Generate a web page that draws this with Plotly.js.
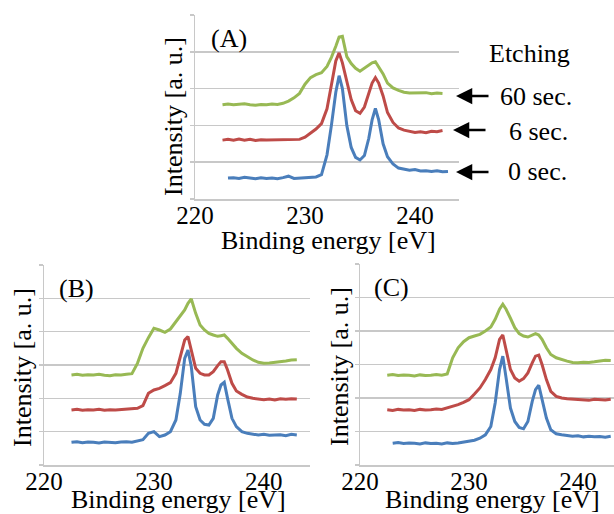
<!DOCTYPE html>
<html>
<head>
<meta charset="utf-8">
<script src="https://cdn.plot.ly/plotly-3.0.1.min.js"></script>
<style>html,body{margin:0;padding:0;background:#fff;}#chart{width:614px;height:514px;}</style>
</head>
<body>
<div id="chart"></div>
<script>
// Binding energy grid (eV)
const energy = [222.5,223,223.5,224,224.5,225,225.5,226,226.5,227,227.5,228,228.5,229,229.5,230,230.5,231,231.5,
  232,232.4,232.8,233.1,233.4,233.8,234.2,234.6,235,235.4,235.8,236.1,236.4,236.7,237.1,237.5,238,
  238.5,239,239.5,240,240.5,241,241.5,242,242.5,243];

// Panel (A)
const a0  = [null,0.57,0.58,0.56,0.59,0.57,0.55,0.58,0.56,0.57,0.55,0.58,0.62,0.56,0.57,0.56,0.58,0.6,0.66,
  1.2,2.0,2.9,3.35,3.0,2.0,1.4,1.13,1.06,1.18,1.65,2.15,2.46,2.15,1.5,1.15,0.95,
  0.84,0.8,0.78,0.8,0.76,0.77,0.75,0.77,0.74,0.75];
const a6  = [1.6,1.62,1.6,1.63,1.6,1.62,1.59,1.61,1.6,1.6,1.62,1.61,1.6,1.61,1.62,1.68,1.78,1.9,2.05,
  2.45,3.1,3.75,3.97,3.7,3.2,2.7,2.4,2.33,2.5,2.85,3.15,3.3,3.15,2.8,2.35,2.08,
  1.93,1.87,1.83,1.81,1.83,1.8,1.84,1.83,1.86,null];
const a60 = [2.56,2.58,2.56,2.57,2.59,2.56,2.55,2.57,2.56,2.58,2.57,2.6,2.66,2.75,2.87,3.12,3.3,3.38,3.43,
  3.6,3.85,4.15,4.4,4.42,3.87,3.68,3.55,3.47,3.55,3.65,3.7,3.73,3.6,3.4,3.15,3.02,
  2.95,2.9,2.88,2.88,2.87,2.89,2.86,2.88,2.87,null];

// Panel (B)
const b0  = [0.68,0.7,0.67,0.69,0.68,0.66,0.69,0.68,0.67,0.69,0.7,0.68,0.71,0.76,0.95,1.0,0.85,0.9,1.0,
  1.35,2.15,3.2,3.45,2.95,1.75,1.35,1.22,1.2,1.4,2.1,2.4,2.48,2.0,1.4,1.15,1.0,
  0.95,0.92,0.9,0.92,0.89,0.9,0.91,0.88,0.92,0.9];
const b6  = [1.65,1.67,1.64,1.66,1.65,1.67,1.64,1.66,1.65,1.66,1.68,1.67,1.7,1.78,2.15,2.25,2.3,2.38,2.47,
  2.75,3.25,3.75,3.85,3.4,2.9,2.75,2.7,2.7,2.8,2.98,3.1,3.1,2.85,2.45,2.22,2.12,
  2.04,2.0,1.98,1.96,1.98,1.95,1.99,1.97,1.99,1.98];
const b60 = [2.7,2.72,2.69,2.71,2.7,2.72,2.69,2.68,2.71,2.7,2.72,2.74,3.05,3.5,3.82,4.1,4.05,3.98,4.08,
  4.3,4.45,4.65,4.85,4.98,4.55,4.2,4.05,3.95,3.9,3.86,3.88,3.9,3.8,3.65,3.5,3.35,
  3.25,3.15,3.08,3.05,3.06,3.08,3.08,3.12,3.15,3.16];

// Panel (C)
const c0  = [null,0.65,0.67,0.64,0.66,0.65,0.63,0.66,0.64,0.65,0.63,0.66,0.64,0.66,0.68,0.7,0.74,0.8,0.9,
  1.15,1.85,2.85,3.25,2.6,1.7,1.3,1.12,1.08,1.3,1.9,2.25,2.38,1.95,1.4,1.05,0.93,
  0.9,0.88,0.86,0.87,0.84,0.86,0.84,0.85,0.83,0.86];
const c6  = [1.65,1.63,1.66,1.64,1.65,1.63,1.66,1.64,1.65,1.67,1.66,1.7,1.75,1.8,1.87,1.95,2.12,2.3,2.55,
  2.85,3.2,3.75,3.88,3.45,2.85,2.6,2.5,2.58,2.75,3.05,3.25,3.28,3.0,2.55,2.2,2.05,
  2.0,1.98,1.97,1.95,1.96,1.93,1.96,1.95,1.94,1.96];
const c60 = [2.68,2.7,2.67,2.69,2.68,2.66,2.69,2.67,2.68,2.7,2.68,2.72,3.2,3.5,3.68,3.8,3.85,3.9,4.0,
  4.12,4.35,4.65,4.8,4.65,4.38,4.1,3.92,3.85,3.82,3.88,3.92,3.88,3.75,3.5,3.3,3.2,
  3.14,3.1,3.06,3.05,3.07,3.06,3.08,3.1,3.13,3.12];

const xTicks = [220, 230, 240];
const seriesNames = ['0 sec.', '6 sec.', '60 sec.'];
const colors = ['#4a7ebb', '#be4b48', '#98b954'];
const xTitle = 'Binding energy [eV]';
const yTitle = 'Intensity [a. u.]';

const W = 614, H = 514;
const FONT = 'Liberation Serif, Times New Roman, serif';

function mk(y, i, xa, ya) {
  return {x: energy, y: y, type: 'scatter', mode: 'lines', name: seriesNames[i],
    xaxis: xa, yaxis: ya, line: {color: colors[i], width: 3}, showlegend: false,
    connectgaps: false};
}
const traces = [
  mk(a0,0,'x','y'), mk(a6,1,'x','y'), mk(a60,2,'x','y'),
  mk(b0,0,'x2','y2'), mk(b6,1,'x2','y2'), mk(b60,2,'x2','y2'),
  mk(c0,0,'x3','y3'), mk(c6,1,'x3','y3'), mk(c60,2,'x3','y3')
];

const gridC = '#c8c8c8';
function xax(l, r, range, anchor) {
  return {domain: [l / W, r / W], range: range, anchor: anchor,
    tickvals: xTicks, ticks: '', showgrid: false, zeroline: false,
    showline: true, linecolor: gridC, linewidth: 1.5,
    ticklabelstandoff: -7,
    tickfont: {family: FONT, size: 25, color: '#000'},
    automargin: false, fixedrange: true};
}
function yax(t, b, range, anchor) {
  const tv = [];
  for (let k = 0; k <= range[1]; k++) tv.push(k);
  return {domain: [1 - b / H, 1 - t / H], range: range, anchor: anchor,
    tickvals: tv, showticklabels: false, ticks: 'outside', ticklen: 4, tickwidth: 1.5, tickcolor: gridC,
    showgrid: true, gridcolor: gridC, gridwidth: 1.5, zeroline: false,
    showline: true, linecolor: gridC, linewidth: 1.5,
    automargin: false, fixedrange: true};
}

function txt(s, px, py, angle) {
  return {text: s, xref: 'paper', yref: 'paper', x: px / W, y: 1 - py / H,
    xanchor: 'center', yanchor: 'middle', showarrow: false, textangle: angle || 0,
    font: {family: FONT, size: 26, color: '#000'}};
}
function arrow(headX, py) {
  return {text: '', xref: 'paper', yref: 'paper', x: headX / W, y: 1 - py / H,
    showarrow: true, ax: 34, ay: 0, arrowhead: 2, arrowsize: 1.3, arrowwidth: 2.5,
    arrowcolor: '#000', standoff: 0, startstandoff: 0};
}

const layout = {
  width: W, height: H, margin: {l: 0, r: 0, t: 0, b: 0},
  paper_bgcolor: '#fff', plot_bgcolor: '#fff',
  xaxis: xax(195, 459, [220, 244], 'y'),
  yaxis: yax(15, 199, [0, 5], 'x'),
  xaxis2: xax(44, 310, [220, 244.2], 'y2'),
  yaxis2: yax(265, 465, [0, 6], 'x2'),
  xaxis3: xax(360, 614, [220, 243.3], 'y3'),
  yaxis3: yax(264, 465, [0, 6], 'x3'),
  annotations: [
    txt(xTitle, 328, 240), txt(xTitle, 178, 499), txt(xTitle, 492, 499),
    txt(yTitle, 174, 117, -90), txt(yTitle, 22, 368, -90), txt(yTitle, 339, 367, -90),
    txt('(A)', 229, 39), txt('(B)', 76, 288), txt('(C)', 392, 287),
    txt('Etching', 529, 54), txt('60 sec.', 536, 96), txt('6 sec.', 538, 131), txt('0 sec.', 537, 172),
    arrow(456, 96), arrow(453, 130), arrow(456, 172)
  ],
  showlegend: false
};

Plotly.newPlot('chart', traces, layout, {displayModeBar: false, staticPlot: true});
</script>
</body>
</html>
